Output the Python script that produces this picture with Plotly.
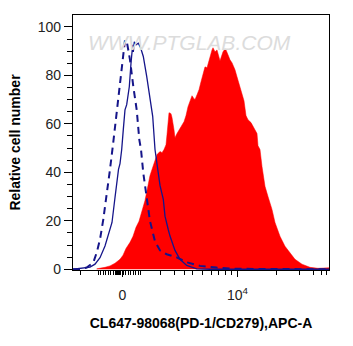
import plotly.graph_objects as go

# Display-channel positions (0..256 across the axis) and relative cell counts
red_x = [23.7, 27, 32, 37, 42, 47, 50, 53, 57, 60, 63, 66, 69, 72, 75, 77, 79, 81, 84, 87,
         89, 91, 93, 94, 95, 96, 98, 99, 101, 102, 104, 106, 108, 111, 113, 115, 117, 119,
         121, 122, 124, 126, 128, 130, 132, 134, 135, 137, 139, 140, 142, 144, 146, 147,
         149, 150, 152, 153, 155, 157, 159, 162, 164, 167, 169, 171, 173, 175, 178, 180,
         182, 184, 185, 187, 189, 192, 195, 199, 202, 207, 212, 217, 222, 229, 237, 245,
         250, 255, 256]
red_y = [0.2, 0.4, 0.8, 1.4, 2.5, 4.1, 5.8, 8.6, 11.1, 13.6, 17.3, 19.8, 23.9, 28.4, 34.6,
         38.7, 41.2, 44.0, 47.3, 48.6, 48.1, 49.4, 51.4, 55.6, 61.7, 64.6, 64.2, 62.6, 57.6,
         54.3, 56.0, 57.6, 58.8, 60.9, 63.4, 67.1, 69.5, 71.6, 70.4, 70.0, 72.0, 74.1, 77.4,
         80.7, 83.5, 83.1, 84.8, 87.7, 90.5, 91.4, 89.7, 90.5, 87.7, 86.0, 88.5, 89.7, 90.9,
         90.5, 88.5, 86.4, 85.2, 82.3, 79.4, 75.3, 72.8, 69.5, 63.4, 61.7, 60.5, 58.8, 57.6,
         56.0, 51.0, 49.4, 42.4, 34.2, 30.0, 24.7, 19.3, 13.6, 9.5, 7.0, 4.1, 2.1, 0.8, 0.4,
         0.4, 0.6, 0.6]

solid_x = [0, 7, 17, 22, 27, 32, 35, 39, 42, 44, 45.5, 47, 48.7, 50.3, 52, 53.7, 56.3, 58,
           58.7, 59.7, 60.3, 61.3, 63, 65.3, 67.7, 70.3, 73.7, 77, 79.7, 82, 85, 87, 90.3,
           92, 95.3, 97, 102, 107, 113.7, 123.7, 137, 256]
solid_y = [0, 0.3, 0.9, 2.1, 4.8, 9.6, 13.7, 19.3, 29.6, 37.0, 41.2, 43.6, 49.4, 57.6, 65.8,
           67.9, 75.3, 85.0, 90.5, 92.6, 89.7, 93.8, 92.6, 93.3, 91.3, 87.8, 79.6, 71.3, 63.1,
           49.4, 41.2, 34.6, 28.8, 21.9, 16.3, 13.7, 7.8, 4.1, 1.6, 0.2, 0, 0]

dash_x = [0, 7, 13.7, 20.3, 23.7, 27, 30.3, 33.7, 37, 40.3, 43, 44.7, 47, 50.3, 52, 53.7, 57,
          60.3, 63.7, 66.3, 68, 70.3, 73.7, 77, 82, 87, 93.7, 103.7, 113.7, 127, 143.7, 162, 256]
dash_y = [0, 0, 0.7, 2.8, 6.9, 12.3, 20.6, 30.2, 41.2, 52.5, 61.7, 69.9, 76.4, 88.8, 94.6,
          94.2, 86.4, 75.4, 65.8, 53.5, 49.4, 39.7, 28.8, 19.8, 11.5, 7.8, 6.2, 4.9, 2.9, 1.4,
          0.7, 0.2, 0]

x_major_ticks = [49.5, 164.5]
x_major_text = ["0", "10<sup>4</sup>"]
x_minor_ticks = ([7.7, 25, 67.7] + [27.5 + 2.5 * i for i in range(16)] + [43.5, 44.5, 45.5, 46.5, 47.5]
                 + [87, 101, 111, 119.3, 129.5, 138.7, 145.3, 152, 158.7, 203.7, 226, 240.3, 248.7, 253])

font = "Liberation Sans, Arial, sans-serif"
blue = "#15158a"

fig = go.Figure()
fig.add_trace(go.Scatter(x=red_x, y=red_y, mode="lines", fill="tozeroy",
                         fillcolor="#ff0000", line=dict(color="#ff0000", width=0.5),
                         hoverinfo="skip", showlegend=False))
fig.add_trace(go.Scatter(x=dash_x, y=dash_y, mode="lines",
                         line=dict(color=blue, width=2, dash="7px,5px"),
                         hoverinfo="skip", showlegend=False))
fig.add_trace(go.Scatter(x=solid_x, y=solid_y, mode="lines",
                         line=dict(color=blue, width=1.3),
                         hoverinfo="skip", showlegend=False))

fig.add_annotation(text="<i>WWW.PTGLAB.COM</i>", xref="paper", yref="paper",
                   x=0.457, y=0.945, showarrow=False,
                   font=dict(family=font, size=21, color="#dcdcdc"))

fig.update_layout(
    width=353, height=346,
    margin=dict(l=73, r=24, t=15, b=76),
    paper_bgcolor="white", plot_bgcolor="white",
    font=dict(family=font, color="#222"),
    xaxis=dict(range=[0, 256], showgrid=False, zeroline=False,
               showline=True, linecolor="black", linewidth=1, mirror=True,
               ticks="outside", ticklen=6, tickcolor="black", tickwidth=1,
               tickmode="array", tickvals=x_major_ticks, ticktext=x_major_text,
               tickfont=dict(size=14, color="#222"), ticklabelstandoff=6,
               minor=dict(tickmode="array", tickvals=x_minor_ticks, ticks="outside",
                          ticklen=4, tickcolor="black", tickwidth=1),
               title=dict(text="<b>CL647-98068(PD-1/CD279),APC-A</b>",
                          font=dict(size=14, color="black"), standoff=16)),
    yaxis=dict(range=[-0.3, 104.9], showgrid=False, zeroline=False,
               showline=True, linecolor="black", linewidth=1.2, mirror=True,
               ticks="outside", ticklen=8, tickcolor="black", tickwidth=1,
               tickmode="array", tickvals=[0, 20, 40, 60, 80, 100],
               tickfont=dict(size=14, color="#222"),
               minor=dict(dtick=5, tick0=0, ticks="outside", ticklen=5,
                          tickcolor="black", tickwidth=1),
               title=dict(text="<b>Relative cell number</b>",
                          font=dict(size=14, color="black"), standoff=13)),
)

fig.write_html("out.html")
